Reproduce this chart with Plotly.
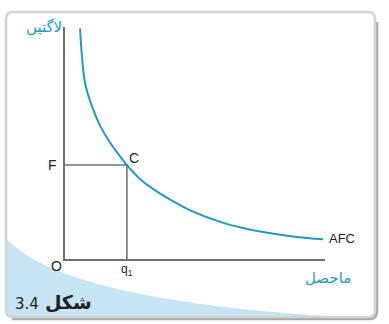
import plotly.graph_objects as go

# ---- data ----
quantity = [0.58, 0.64, 0.77, 1.03, 1.35, 1.73, 2.12, 2.38, 3.01, 3.65, 4.30, 4.93, 5.58, 6.35, 7.62, 8.91, 9.92]
afc = [9.94, 8.9, 7.6, 6.6, 5.75, 5.02, 4.42, 4.05, 3.33, 2.83, 2.40, 2.04, 1.75, 1.47, 1.16, 0.95, 0.85]
q1 = 2.38
f_level = 4.05

W, H = 389, 324
def px(x):
    return x / W
def py(y):
    return 1 - y / H

CURVE = "#1b9cc4"
AXIS = "#707173"

fig = go.Figure()
# guide lines F-C and C-q1
fig.add_trace(go.Scatter(x=[0, q1, q1], y=[f_level, f_level, 0], mode="lines",
                         line=dict(color=AXIS, width=1.6), hoverinfo="skip"))
# AFC curve
fig.add_trace(go.Scatter(x=quantity, y=afc, mode="lines", line_shape="spline",
                         line=dict(color=CURVE, width=2, smoothing=1.0), hoverinfo="skip"))

shapes = []
# light blue sweep in the lower-left
blue = (f"M {px(6)},{py(238)} "
        f"Q {px(60)},{py(300)} {px(340)},{py(317)} "
        f"L {px(12)},{py(317)} Q {px(6)},{py(317)} {px(6)},{py(311)} Z")
shapes.append(dict(type="path", path=blue, xref="paper", yref="paper",
                   fillcolor="#c6e4f3", line=dict(width=0), layer="below"))
# shadow (right / bottom)
shadow = (f"M {px(377)},{py(22)} L {px(377)},{py(311)} "
          f"Q {px(377)},{py(319)} {px(369)},{py(319)} L {px(12)},{py(319)}")
shapes.append(dict(type="path", path=shadow, xref="paper", yref="paper",
                   line=dict(color="#a9a9a9", width=2.5), layer="below"))
# rounded frame
x0, x1, y0, y1, r = 6, 375, 12, 317, 7
frame = (f"M {px(x0+r)},{py(y0)} L {px(x1-r)},{py(y0)} Q {px(x1)},{py(y0)} {px(x1)},{py(y0+r)} "
         f"L {px(x1)},{py(y1-r)} Q {px(x1)},{py(y1)} {px(x1-r)},{py(y1)} "
         f"L {px(x0+r)},{py(y1)} Q {px(x0)},{py(y1)} {px(x0)},{py(y1-r)} "
         f"L {px(x0)},{py(y0+r)} Q {px(x0)},{py(y0)} {px(x0+r)},{py(y0)} Z")
shapes.append(dict(type="path", path=frame, xref="paper", yref="paper",
                   line=dict(color="#d2d2d2", width=2.5), layer="below"))

LAT = "Liberation Sans, Arial, sans-serif"
URDU = "DejaVu Sans, Noto Sans, sans-serif"
TXT = "#231f20"
ann = [
    dict(x=0, y=f_level, xref="x", yref="y", text="F", xanchor="right", yanchor="middle", xshift=-6,
         font=dict(family=LAT, size=14, color=TXT)),
    dict(x=q1, y=f_level, xref="x", yref="y", text="C", xanchor="left", yanchor="bottom", xshift=0, yshift=-3,
         font=dict(family=LAT, size=14, color=TXT)),
    dict(x=q1, y=0, xref="x", yref="y", text="q<sub>1</sub>", xanchor="center", yanchor="top", yshift=-1,
         font=dict(family=LAT, size=12, color=TXT)),
    dict(x=0, y=0, xref="x", yref="y", text="O", xanchor="right", yanchor="top", xshift=-1, yshift=3,
         font=dict(family=LAT, size=14, color=TXT)),
    dict(x=quantity[-1], y=afc[-1], xref="x", yref="y", text="AFC", xanchor="left", yanchor="middle",
         xshift=4, yshift=1, font=dict(family=LAT, size=13, color=TXT)),
    dict(x=px(44), y=py(27), xref="paper", yref="paper", text="لاگتیں",
         xanchor="center", yanchor="middle", font=dict(family=URDU, size=15, color=CURVE)),
    dict(x=px(328), y=py(278), xref="paper", yref="paper", text="ماحصل",
         xanchor="center", yanchor="middle", font=dict(family=URDU, size=15, color=CURVE)),
    dict(x=px(13), y=py(302), xref="paper", yref="paper",
         text="<span style='font-size:15px'>3.4</span> <b>شکل</b>",
         xanchor="left", yanchor="middle", font=dict(family=URDU, size=19, color=TXT)),
]
for a in ann:
    a["showarrow"] = False

fig.update_layout(
    width=W, height=H, margin=dict(l=0, r=0, t=0, b=0),
    paper_bgcolor="white", plot_bgcolor="rgba(0,0,0,0)",
    showlegend=False, shapes=shapes, annotations=ann,
    xaxis=dict(domain=[px(65), px(325)], range=[0, 10], showline=True, linecolor=AXIS, linewidth=1.6,
               showgrid=False, zeroline=False, showticklabels=False, ticks="", fixedrange=True),
    yaxis=dict(domain=[py(259), py(27)], range=[0, 10], showline=True, linecolor=AXIS, linewidth=1.6,
               showgrid=False, zeroline=False, showticklabels=False, ticks="", fixedrange=True),
)
fig.write_html("out.html", config={"displayModeBar": False})
